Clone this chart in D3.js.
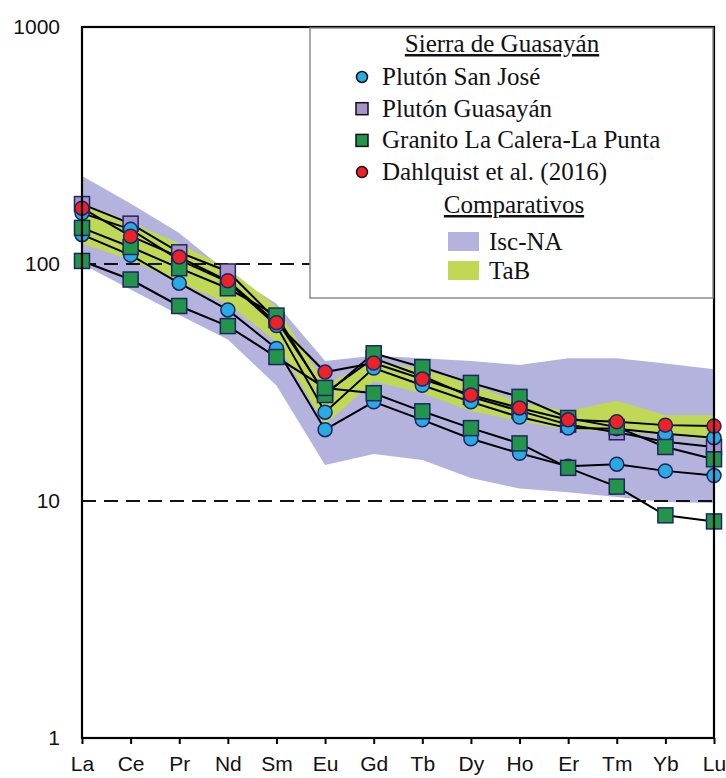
<!DOCTYPE html>
<html>
<head>
<meta charset="utf-8">
<script src="https://cdn.jsdelivr.net/npm/d3@7"></script>
<style>
body{margin:0;background:#fff;}
svg{display:block;}
</style>
</head>
<body>
<div id="chart"></div>
<script>
// REE pattern, Sierra de Guasayan
const elements=['La','Ce','Pr','Nd','Sm','Eu','Gd','Tb','Dy','Ho','Er','Tm','Yb','Lu'];
const yTicks=[1,10,100,1000];

// Pluton San Jose (2 samples)
const sanJose1=[164,140,104,84,55,23.7,36.4,30.8,26.2,22.6,20.3,20.2,19.2,18.5];
const sanJose2=[133,109,83,64,44,20,26.2,22,18.3,15.9,14,14.3,13.4,12.8];
// Pluton Guasayan
const guasayan=[179,148,112,93,58,28.5,40,33.7,27.5,24,21,19.5,17.8,16.9];
// Granito La Calera-La Punta (2 samples)
const calera1=[142,118,96,79,60.6,28,42,36.7,31.5,27.5,22.4,20.5,16.9,15.0];
const calera2=[103,86,66.5,54.7,40.5,30,28.5,23.9,20.3,17.5,13.8,11.5,8.7,8.2];
// Dahlquist et al. (2016)
const dahlquist=[172,131,107,85,56.5,35,38.2,32.7,28,24.7,22,21.6,20.9,20.7];

// comparison fields
const iscUpper=[235,180,135,92,68,39,41,40,39,37.5,40,40,38,36];
const iscLower=[100,78,61,48,30.7,14.2,15.8,14.9,12.5,11.3,10.9,10.4,9.9,9.8];
const tabUpper=[180,150,122,96,66,31,39,36,31,26,24,26.5,23,23];
const tabLower=[122,104,84,68,47,21,32,28.5,24,21.7,20,19.7,19,18];

const W=726,H=778;
const mLeft=82,mRight=714,mTop=27,mBottom=738;
const cBlue='#29aae2',cPurple='#a992c9',cGreen='#23954a',cRed='#ec2227';
const cIsc='#b4b3dd',cTab='#bfd955',cEdge='#1d2660';
const sans="'Liberation Sans', Arial, sans-serif";
const serif="'Liberation Serif', 'Times New Roman', serif";

const svg=d3.select('#chart').append('svg').attr('width',W).attr('height',H);
const x=d3.scalePoint().domain(elements).range([mLeft,mRight]);
const y=d3.scaleLog().domain([1,1000]).range([mBottom,mTop]);

// bands
const area=d3.area().x((d,i)=>x(elements[i])).y0(d=>y(d[0])).y1(d=>y(d[1]));
svg.append('path').datum(iscLower.map((v,i)=>[v,iscUpper[i]])).attr('d',area).attr('fill',cIsc);
svg.append('path').datum(tabLower.map((v,i)=>[v,tabUpper[i]])).attr('d',area).attr('fill',cTab);

// dashed reference lines
[10,100].forEach(v=>{
  svg.append('line').attr('x1',mLeft).attr('x2',mRight).attr('y1',y(v)).attr('y2',y(v))
    .attr('stroke','#111').attr('stroke-width',2.2).attr('stroke-dasharray','14,8');
});

const series=[
  {vals:guasayan,shape:'square',color:cPurple},
  {vals:sanJose1,shape:'circle',color:cBlue},
  {vals:sanJose2,shape:'circle',color:cBlue},
  {vals:calera1,shape:'square',color:cGreen},
  {vals:calera2,shape:'square',color:cGreen},
  {vals:dahlquist,shape:'circle',color:cRed}
];
const line=d3.line().x((d,i)=>x(elements[i])).y(d=>y(d));
series.forEach(s=>{
  svg.append('path').datum(s.vals).attr('d',line).attr('fill','none')
    .attr('stroke','#000').attr('stroke-width',2);
});
series.forEach(s=>{
  const g=svg.append('g');
  s.vals.forEach((v,i)=>{
    if(s.shape==='circle'){
      g.append('circle').attr('cx',x(elements[i])).attr('cy',y(v)).attr('r',7)
        .attr('fill',s.color).attr('stroke',cEdge).attr('stroke-width',1.5);
    }else{
      g.append('rect').attr('x',x(elements[i])-7.5).attr('y',y(v)-7.5).attr('width',15).attr('height',15)
        .attr('fill',s.color).attr('stroke',cEdge).attr('stroke-width',1.5);
    }
  });
});

// frame
svg.append('rect').attr('x',mLeft).attr('y',mTop).attr('width',mRight-mLeft).attr('height',mBottom-mTop)
  .attr('fill','none').attr('stroke','#000').attr('stroke-width',2.2);

// axes
const xAxis=svg.append('g').attr('transform','translate(0,'+mBottom+')')
  .call(d3.axisBottom(x).tickSize(6).tickPadding(12));
xAxis.select('.domain').remove();
xAxis.selectAll('line').attr('stroke','#000').attr('stroke-width',2);
xAxis.selectAll('text').attr('font-family',sans).attr('font-size',21).attr('fill','#111');

const yAxis=svg.append('g').attr('transform','translate('+mLeft+',0)')
  .call(d3.axisLeft(y).tickValues(yTicks).tickFormat(d3.format('d')).tickSize(0).tickPadding(22));
yAxis.select('.domain').remove();
yAxis.selectAll('text').attr('font-family',sans).attr('font-size',21).attr('fill','#111');

// legend
const lg=svg.append('g');
lg.append('rect').attr('x',310).attr('y',mTop+1).attr('width',403).attr('height',270)
  .attr('fill','#fff').attr('stroke','#8a8a8a').attr('stroke-width',1.5);
lg.append('text').attr('x',502).attr('y',52).attr('text-anchor','middle').attr('font-family',serif)
  .attr('font-size',25).attr('text-decoration','underline').attr('fill','#111').text('Sierra de Guasayán');
const legItems=[
  {label:'Plutón San José',shape:'circle',color:cBlue},
  {label:'Plutón Guasayán',shape:'square',color:cPurple},
  {label:'Granito La Calera-La Punta',shape:'square',color:cGreen},
  {label:'Dahlquist et al. (2016)',shape:'circle',color:cRed}
];
legItems.forEach((d,i)=>{
  const cy=77+i*31.7;
  if(d.shape==='circle'){
    lg.append('circle').attr('cx',362).attr('cy',cy).attr('r',5.5).attr('fill',d.color).attr('stroke','#111').attr('stroke-width',1.5);
  }else{
    lg.append('rect').attr('x',356).attr('y',cy-6).attr('width',12).attr('height',12).attr('fill',d.color).attr('stroke','#111').attr('stroke-width',1.5);
  }
  lg.append('text').attr('x',382).attr('y',cy+8).attr('font-family',serif).attr('font-size',25).attr('fill','#111').text(d.label);
});
lg.append('text').attr('x',514).attr('y',213).attr('text-anchor','middle').attr('font-family',serif)
  .attr('font-size',25).attr('text-decoration','underline').attr('fill','#111').text('Comparativos');
[{label:'Isc-NA',color:cIsc},{label:'TaB',color:cTab}].forEach((d,i)=>{
  const yy=232+i*29;
  lg.append('rect').attr('x',448).attr('y',yy).attr('width',31).attr('height',19).attr('fill',d.color);
  lg.append('text').attr('x',489).attr('y',yy+18).attr('font-family',serif).attr('font-size',25).attr('fill','#111').text(d.label);
});
</script>
</body>
</html>
